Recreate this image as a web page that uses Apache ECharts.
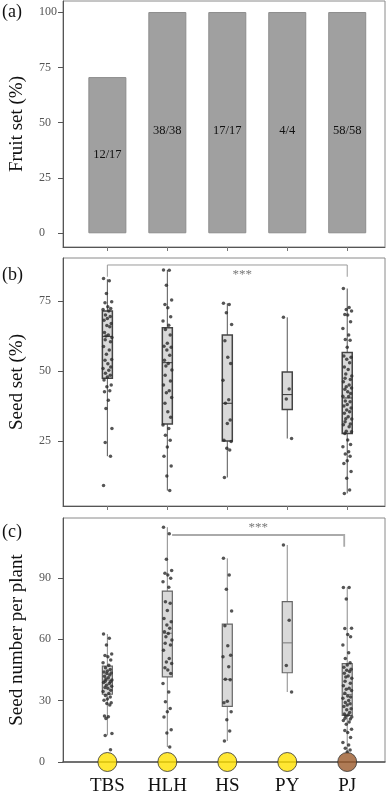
<!DOCTYPE html>
<html><head><meta charset="utf-8">
<script src="https://cdn.jsdelivr.net/npm/echarts@6/dist/echarts.min.js"></script>
<style>html,body{margin:0;padding:0;background:#fff}#c{width:386px;height:800px}</style>
</head><body><div id="c"></div>
<script>
// ---------- data ----------
const groups = ['TBS', 'HLH', 'HS', 'PY', 'PJ'];
const groupColors = ['#FFE100', '#FFE100', '#FFE100', '#FFE100', '#9B5A2C'];

// (a) fruit set
const fruitsSet = [12, 38, 17, 4, 58];
const flowersTotal = [17, 38, 17, 4, 58];
const fruitLabels = ['12/17', '38/38', '17/17', '4/4', '58/58'];
const fruitTicks = [0, 25, 50, 75, 100];

// (b) seed set (%) ; box stats [min, q1, median, q3, max]
const seedSetTicks = [25, 50, 75];
const seedSetBox = [
  [19.6, 47.4, 62.4, 71.5, 82.8],
  [7.3, 31.1, 53.0, 65.5, 86.1],
  [12.0, 25.0, 38.5, 62.9, 74.2],
  [25.9, 36.3, 41.6, 49.7, 69.2],
  [6.3, 27.7, 40.4, 56.6, 79.5]
];
const seedSetTBS = [83.1, 82.3, 77.7, 74.8, 74.4, 73.0, 72.4, 72.0, 71.5, 70.0, 69.5, 68.8, 68.2, 67.0, 66.3, 65.8, 63.8, 62.9, 62.5, 62.0, 61.2, 60.5, 58.8, 57.5, 56.0, 54.1, 53.9, 52.6, 51.5, 50.9, 50.3, 49.2, 48.5, 47.9, 46.8, 45.0, 44.4, 43.0, 42.6, 39.6, 36.6, 29.5, 24.5, 19.6, 9.1];
const seedSetHLH = [86.1, 86.0, 80.7, 75.4, 73.8, 72.6, 69.4, 67.9, 66.4, 64.9, 62.9, 59.9, 58.9, 58.5, 57.5, 55.7, 53.9, 52.7, 51.8, 50.4, 48.5, 46.5, 45.0, 43.0, 42.3, 40.6, 38.5, 35.5, 33.5, 30.7, 29.5, 27.1, 25.3, 22.9, 19.6, 16.1, 12.5, 7.3];
const seedSetHS = [74.2, 73.8, 70.8, 66.6, 60.8, 54.9, 52.7, 46.7, 39.8, 38.5, 32.5, 31.3, 25.3, 24.8, 22.4, 21.8, 12.0];
const seedSetPY = [69.2, 43.6, 40.0, 25.9];
const seedSetPJ = [79.5, 72.7, 72.0, 71.5, 70.2, 70.0, 67.6, 65.2, 62.9, 61.3, 61.0, 58.5, 55.4, 54.9, 54.2, 53.0, 51.5, 50.6, 49.0, 48.2, 47.4, 47.0, 46.2, 45.0, 44.4, 44.0, 43.5, 42.6, 42.0, 41.0, 40.9, 39.3, 39.0, 38.1, 37.5, 36.8, 36.1, 35.5, 34.9, 33.7, 33.0, 32.9, 31.9, 31.1, 30.8, 30.1, 28.5, 28.3, 27.7, 25.4, 23.8, 23.0, 21.2, 20.4, 19.6, 18.0, 17.0, 14.1, 11.7, 7.5, 6.3];

// (c) seed number per plant
const seedNumTicks = [0, 30, 60, 90];
const seedNumBox = [
  [13.0, 33.1, 40.0, 46.8, 62.5],
  [7.3, 41.6, 62.9, 83.5, 114.7],
  [10.3, 27.2, 40.4, 67.4, 99.5],
  [34.2, 43.6, 58.2, 78.3, 106.0],
  [4.9, 22.8, 33.0, 48.1, 85.3]
];
const seedNumTBS = [62.5, 60.4, 57.1, 52.7, 52.0, 51.4, 49.8, 48.5, 47.3, 46.0, 45.2, 44.5, 44.0, 43.5, 43.2, 42.5, 41.9, 41.1, 40.5, 40.0, 39.5, 39.2, 38.8, 38.3, 37.5, 37.0, 36.4, 36.0, 35.1, 34.5, 33.5, 32.5, 31.8, 30.8, 30.2, 29.0, 28.6, 27.8, 22.5, 22.1, 21.2, 13.9, 13.0, 6.0];
const seedNumHLH = [114.7, 111.5, 99.0, 93.5, 92.2, 91.4, 89.8, 88.1, 85.4, 78.3, 77.5, 74.0, 70.1, 68.5, 66.9, 65.3, 63.6, 62.8, 61.2, 59.6, 58.0, 57.1, 54.6, 50.6, 48.9, 48.1, 46.0, 44.9, 43.2, 38.3, 34.2, 29.4, 26.1, 24.5, 22.0, 15.8, 14.2, 7.3];
const seedNumHS = [99.5, 91.4, 84.4, 73.8, 66.6, 56.8, 52.2, 51.4, 46.5, 40.4, 40.2, 29.7, 28.9, 24.5, 20.7, 15.2, 10.3];
const seedNumPY = [106.0, 69.3, 47.1, 34.2];
const seedNumPJ = [85.3, 85.2, 79.6, 65.3, 65.2, 62.3, 61.2, 57.1, 53.4, 50.6, 48.5, 47.4, 46.3, 45.3, 44.8, 44.2, 43.3, 42.0, 41.5, 40.9, 39.5, 38.5, 37.2, 36.0, 35.5, 34.9, 33.6, 32.3, 31.8, 31.2, 30.0, 29.1, 28.5, 27.9, 27.1, 26.0, 25.5, 24.2, 23.5, 23.0, 22.5, 22.0, 21.4, 21.0, 20.3, 19.5, 18.5, 16.0, 15.4, 14.4, 12.0, 9.5, 8.3, 6.7, 5.9, 4.9];

// significance brackets
const sigB = { from: 0, to: 4, level: 87.9, drop: 4.2, text: '***' };
const sigC = { from: 1.08, to: 3.95, level: 110.9, drop: 5.7, text: '***' };

// ---------- rendering helpers ----------
const FONT = 'Liberation Serif';
const JIT = [-0.8, 0.4, -0.2, 0.9, -0.5, 0.1, 0.7, -0.9, 0.3, -0.4, 0.6, 0.0, -0.7, 0.8, -0.1, 0.5, -0.6, 0.2, -0.3, 0.95, -0.45, 0.65];
const JIT_SCALE = 0.08;
function jitterPts(lists) {
  const out = [];
  lists.forEach((arr, g) => arr.forEach((v, i) => out.push([g + JIT[i % JIT.length] * JIT_SCALE, v])));
  return out;
}
function boxData(stats) { return stats.map((s, g) => [g].concat(s)); }

function boxRenderer(opt) {
  return function (params, api) {
    const x = api.value(0);
    const lo = api.coord([x, api.value(1)]);
    const q1 = api.coord([x, api.value(2)]);
    const md = api.coord([x, api.value(3)]);
    const q3 = api.coord([x, api.value(4)]);
    const hi = api.coord([x, api.value(5)]);
    const hw = 5;
    return {
      type: 'group', children: [
        { type: 'line', shape: { x1: lo[0], y1: lo[1], x2: q1[0], y2: q1[1] }, style: { stroke: opt.whisker, lineWidth: 1 } },
        { type: 'line', shape: { x1: q3[0], y1: q3[1], x2: hi[0], y2: hi[1] }, style: { stroke: opt.whisker, lineWidth: 1 } },
        { type: 'rect', shape: { x: q3[0] - hw, y: q3[1], width: 2 * hw, height: q1[1] - q3[1] }, style: { fill: '#d9d9d9', stroke: opt.border, lineWidth: opt.bw } },
        { type: 'line', shape: { x1: md[0] - hw, y1: md[1], x2: md[0] + hw, y2: md[1] }, style: { stroke: opt.median, lineWidth: 1 } }
      ]
    };
  };
}
function bracketSeries(sig, xi, yi, opt) {
  return {
    type: 'custom', xAxisIndex: xi, yAxisIndex: yi, z: 4, silent: true,
    data: [[sig.from, sig.to, sig.level, sig.drop]],
    renderItem: function (params, api) {
      const a = api.coord([api.value(0), api.value(2)]);
      const b = api.coord([api.value(1), api.value(2)]);
      const aD = api.coord([api.value(0), api.value(2) - api.value(3)]);
      const bD = api.coord([api.value(1), api.value(2) - api.value(3)]);
      const pts = opt.leftDrop ? [aD, a, b, bD] : [a, b, bD];
      const mid = (a[0] + b[0]) / 2;
      return {
        type: 'group', children: [
          { type: 'polyline', shape: { points: pts }, style: { stroke: opt.color, lineWidth: opt.lw, fill: null } },
          { type: 'text', style: { text: sig.text, x: mid + opt.tdx, y: a[1] + opt.tdy, align: 'center', verticalAlign: 'middle', fill: '#777', font: '13px ' + FONT } }
        ]
      };
    }
  };
}

// ---------- layout ----------
const xMin = -0.74, xMax = 4.63;
const grids = [
  { left: 55, top: 1, width: 330, height: 246 },
  { left: 55, top: 258, width: 330, height: 248 },
  { left: 55, top: 518, width: 330, height: 244 }
];
const gridStyle = { show: true, borderColor: '#8a8a8a', borderWidth: 1, backgroundColor: 'transparent' };

function xAxisCfg(i, showLabels) {
  return {
    type: 'value', gridIndex: i, min: xMin, max: xMax,
    splitLine: { show: false },
    axisLine: { show: true, onZero: false, lineStyle: { color: '#555', width: i === 2 ? 1.5 : 1 } },
    axisTick: { show: !showLabels, length: 4, lineStyle: { color: '#777' }, customValues: [0, 1, 2, 3, 4] },
    axisLabel: showLabels ? {
      show: true, customValues: [0, 1, 2, 3, 4], margin: 15,
      formatter: v => groups[Math.round(v)], color: '#111', fontFamily: FONT, fontSize: 19
    } : { show: false }
  };
}
function yAxisCfg(i, min, max, ticks, name) {
  return {
    type: 'value', gridIndex: i, min: min, max: max,
    name: name, nameLocation: 'middle', nameGap: 36, nameMoveOverlap: false,
    nameTextStyle: { fontFamily: FONT, fontSize: 19, color: '#111' },
    splitLine: { show: false },
    axisLine: { show: true, onZero: false, lineStyle: { color: '#555' } },
    axisTick: { show: true, length: 5, lineStyle: { color: '#555' }, customValues: ticks },
    axisLabel: { show: true, customValues: ticks, align: 'left', margin: 24, color: '#555', fontFamily: FONT, fontSize: 12 }
  };
}

const fruitSetPct = fruitsSet.map((f, i) => +(100 * f / flowersTotal[i]).toFixed(1));

const option = {
  animation: false,
  backgroundColor: '#fff',
  grid: grids.map(g => Object.assign({}, g, gridStyle)),
  xAxis: [xAxisCfg(0, false), xAxisCfg(1, false), xAxisCfg(2, true)],
  yAxis: [
    yAxisCfg(0, -6.2, 105, fruitTicks, 'Fruit set (%)'),
    yAxisCfg(1, 1.8, 90.4, seedSetTicks, 'Seed set (%)'),
    yAxisCfg(2, 0, 119.2, seedNumTicks, 'Seed number per plant')
  ],
  graphic: [
    { type: 'text', left: 2, top: 3, style: { text: '(a)', font: '18px ' + FONT, fill: '#111' } },
    { type: 'text', left: 2, top: 266, style: { text: '(b)', font: '18px ' + FONT, fill: '#111' } },
    { type: 'text', left: 2, top: 523, style: { text: '(c)', font: '18px ' + FONT, fill: '#111' } }
  ],
  series: [
    {
      type: 'bar', xAxisIndex: 0, yAxisIndex: 0, barWidth: 38,
      itemStyle: { color: '#a0a0a0', borderColor: '#8c8c8c', borderWidth: 1 },
      data: fruitSetPct.map((v, i) => ({
        value: [i, v],
        label: { show: true, position: 'inside', offset: [0, v >= 99 ? 8 : 0], formatter: fruitLabels[i], color: '#111', fontFamily: FONT, fontSize: 12.5 }
      }))
    },
    {
      type: 'custom', xAxisIndex: 1, yAxisIndex: 1, z: 2,
      renderItem: boxRenderer({ whisker: '#555', border: '#444', bw: 1.5, median: '#333' }),
      encode: { x: 0, y: [1, 2, 3, 4, 5] },
      data: boxData(seedSetBox)
    },
    {
      type: 'scatter', xAxisIndex: 1, yAxisIndex: 1, z: 3, symbolSize: 3.5,
      itemStyle: { color: '#2a2a2a' },
      data: jitterPts([seedSetTBS, seedSetHLH, seedSetHS, seedSetPY, seedSetPJ])
    },
    bracketSeries(sigB, 1, 1, { color: '#9a9a9a', lw: 1, leftDrop: true, tdx: 15, tdy: 10 }),
    {
      type: 'custom', xAxisIndex: 2, yAxisIndex: 2, z: 2,
      renderItem: boxRenderer({ whisker: '#8a8a8a', border: '#666', bw: 1.2, median: '#777' }),
      encode: { x: 0, y: [1, 2, 3, 4, 5] },
      data: boxData(seedNumBox)
    },
    {
      type: 'scatter', xAxisIndex: 2, yAxisIndex: 2, z: 3, symbolSize: 3.5,
      itemStyle: { color: '#2a2a2a' },
      data: jitterPts([seedNumTBS, seedNumHLH, seedNumHS, seedNumPY, seedNumPJ])
    },
    bracketSeries(sigC, 2, 2, { color: '#aaaaaa', lw: 1.8, leftDrop: false, tdx: 0, tdy: -7 }),
    {
      type: 'scatter', xAxisIndex: 2, yAxisIndex: 2, z: 6, clip: false, symbolSize: 19,
      data: groups.map((g, i) => ({ value: [i, 0], itemStyle: { color: groupColors[i], borderColor: '#333', borderWidth: 1 } }))
    }
  ]
};
const chart = echarts.init(document.getElementById('c'), null, { renderer: 'canvas' });
chart.setOption(option);
</script>
</body></html>
